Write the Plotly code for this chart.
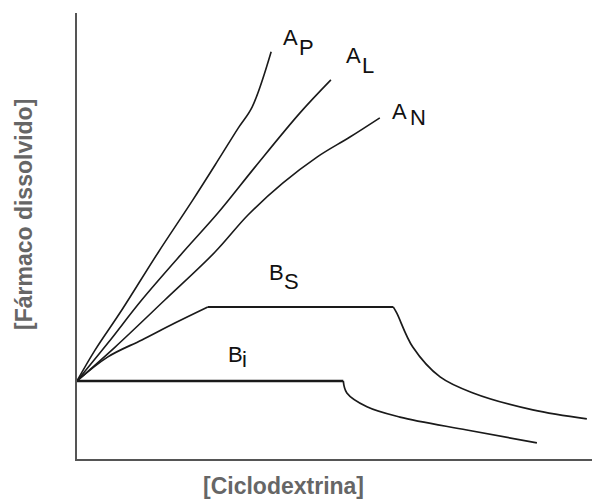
import plotly.graph_objects as go

# Phase-solubility diagram (Higuchi-Connors), arbitrary units
ap_x = [0, 0.35, 0.87, 1.57, 2.25, 2.74, 3.13, 3.40, 3.77]
ap_y = [1.75, 2.44, 3.34, 4.62, 5.81, 6.70, 7.42, 7.89, 9.13]

al_x = [0, 0.60, 1.26, 2.10, 2.74, 3.46, 4.33, 4.93]
al_y = [1.75, 2.60, 3.57, 4.69, 5.52, 6.55, 7.76, 8.50]

an_x = [0, 0.74, 1.71, 2.68, 3.32, 4.00, 4.66, 5.30, 5.88]
an_y = [1.75, 2.51, 3.57, 4.64, 5.47, 6.19, 6.77, 7.22, 7.65]

bs_x = [0, 0.60, 1.26, 1.90, 2.54, 6.14, 6.21, 6.52, 7.05, 7.69, 8.85, 9.90]
bs_y = [1.75, 2.29, 2.67, 3.05, 3.41, 3.41, 3.27, 2.51, 1.84, 1.48, 1.10, 0.90]

bi_x = [0, 5.17, 5.24, 5.63, 6.27, 7.57, 8.93]
bi_y = [1.75, 1.75, 1.48, 1.17, 0.94, 0.65, 0.36]

label_main = ["A", "A", "A", "B", "B", "S"]
label_sub = ["P", "L", "N", "S", "i", "0"]
main_x = [4.14, 5.36, 6.27, 3.88, 3.07, -0.56]
main_y = [9.44, 9.04, 7.80, 4.19, 2.35, 1.93]
sub_x = [4.45, 5.65, 6.62, 4.17, 3.26, -0.33]
sub_y = [9.22, 8.83, 7.65, 3.97, 2.22, 1.70]

x_title = "[Ciclodextrina]"
y_title = "[Fármaco dissolvido]"

fig = go.Figure()


def add_line(xs, ys, w, shape="linear"):
    fig.add_trace(go.Scatter(x=xs, y=ys, mode="lines",
                             line=dict(color="#1a1a1a", width=w, shape=shape, smoothing=1.0)
                             if shape == "spline" else dict(color="#1a1a1a", width=w),
                             hoverinfo="skip", showlegend=False))


add_line(ap_x, ap_y, 1.6, "spline")
add_line(al_x, al_y, 1.6, "spline")
add_line(an_x, an_y, 1.6, "spline")
# B_S: rising part, plateau, decline
add_line(bs_x[:5], bs_y[:5], 1.7, "spline")
add_line(bs_x[4:6], bs_y[4:6], 2.0)
add_line(bs_x[5:], bs_y[5:], 1.7, "spline")
# B_i: plateau and decline
add_line(bi_x[:2], bi_y[:2], 2.4)
add_line(bi_x[1:], bi_y[1:], 1.7, "spline")

font_lab = dict(family="Liberation Sans, Arial, sans-serif", size=22, color="#111111")
for t, x, y in zip(label_main, main_x, main_y):
    fig.add_annotation(x=x, y=y, text=t, showarrow=False, font=font_lab,
                       xanchor="center", yanchor="middle")
for t, x, y in zip(label_sub, sub_x, sub_y):
    fig.add_annotation(x=x, y=y, text=t, showarrow=False, font=font_lab,
                       xanchor="center", yanchor="middle")

font_title = dict(family="Liberation Sans, Arial, sans-serif", size=23, color="#666666")
fig.add_annotation(xref="paper", yref="paper", x=(283 - 77) / 515, y=(459 - 486) / 446,
                   text="<b>" + x_title + "</b>", showarrow=False, font=font_title,
                   xanchor="center", yanchor="middle")
fig.add_annotation(xref="paper", yref="paper", x=(24 - 77) / 515, y=(459 - 215) / 446,
                   text="<b>" + y_title + "</b>", showarrow=False, font=font_title,
                   textangle=-90, xanchor="center", yanchor="middle")

fig.update_layout(
    width=592, height=500,
    margin=dict(l=77, r=0, t=13, b=41),
    paper_bgcolor="white", plot_bgcolor="white",
    xaxis=dict(range=[0, 10], showline=True, linecolor="#555555", linewidth=2,
               showgrid=False, zeroline=False, showticklabels=False, ticks=""),
    yaxis=dict(range=[0, 10], showline=True, linecolor="#555555", linewidth=2,
               showgrid=False, zeroline=False, showticklabels=False, ticks=""),
)

fig.write_html("out.html")
